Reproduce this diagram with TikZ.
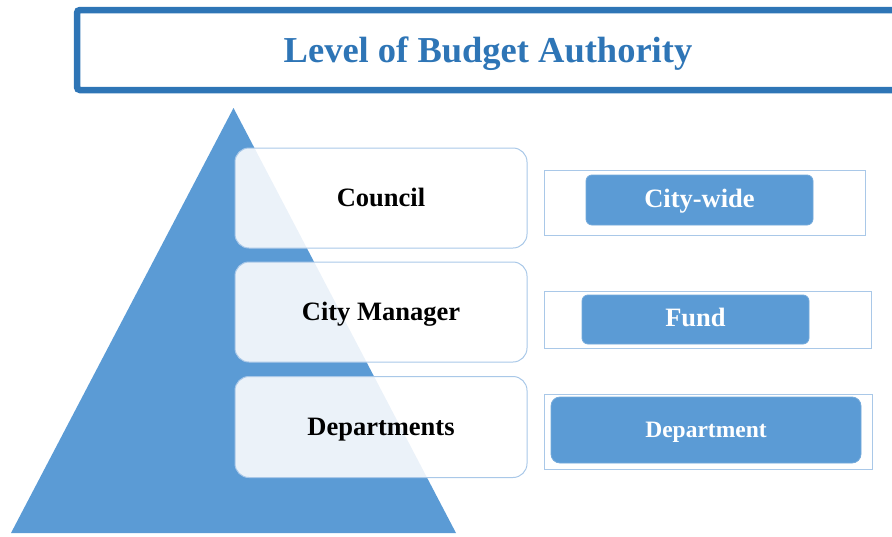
\documentclass[tikz,border=0pt]{standalone}
\usepackage{fontspec}
\setmainfont{Liberation Serif}
\definecolor{triblue}{HTML}{5B9BD5}
\definecolor{titleblue}{HTML}{2E75B6}
\definecolor{lineblue}{HTML}{A9C8E8}
\begin{document}
\begin{tikzpicture}[x=1pt,y=-1pt,
  levelbox/.style={draw=lineblue,line width=1pt,rounded corners=14pt,fill=white,fill opacity=0.88,text opacity=1,
    minimum width=292pt,minimum height=100pt,inner sep=0pt,text height=17pt,text depth=0pt,
    font=\fontsize{26.5}{30}\selectfont\bfseries,text=black},
  outerbox/.style={draw=lineblue,line width=1pt,fill=white,inner sep=0pt},
  scopebox/.style={draw=triblue!85!white,line width=0.8pt,fill=triblue,rounded corners=6pt,inner sep=0pt,
    text height=14pt,text depth=0pt,
    text=white,font=\fontsize{26.5}{30}\selectfont\bfseries}]
\useasboundingbox (0,0) rectangle (892,536);
\clip (0,0) rectangle (892,536);
% title
\draw[titleblue,line width=6.5pt,rounded corners=3pt] (77,10) rectangle (905,90);
\node[text=titleblue,font=\fontsize{36.5}{40}\selectfont\bfseries,text height=25pt,text depth=0pt,inner sep=0pt] (title) at (488,50) {Level of Budget Authority};
% pyramid
\fill[triblue] (233.5,108) -- (456,533) -- (11,533) -- cycle;
% level boxes
\node[levelbox] (council) at (381,198) {Council};
\node[levelbox] (manager) at (381,312) {City Manager};
\node[levelbox,minimum height=101pt] (depts) at (381,427) {Departments};
% right boxes
\node[outerbox,minimum width=321pt,minimum height=65pt] (oA) at (704.5,202.5) {};
\node[outerbox,minimum width=327pt,minimum height=57pt] (oB) at (707.5,319.5) {};
\node[outerbox,minimum width=328pt,minimum height=75pt] (oC) at (708,431.5) {};
\node[scopebox,minimum width=227pt,minimum height=50pt] (iA) at (699.5,200) {City-wide};
\node[scopebox,minimum width=227pt,minimum height=49pt] (iB) at (695.5,319.5) {Fund};
\node[scopebox,minimum width=310pt,minimum height=66pt,rounded corners=9pt,font=\fontsize{23.5}{28}\selectfont\bfseries] (iC) at (706,430) {Department};
\end{tikzpicture}
\end{document}
